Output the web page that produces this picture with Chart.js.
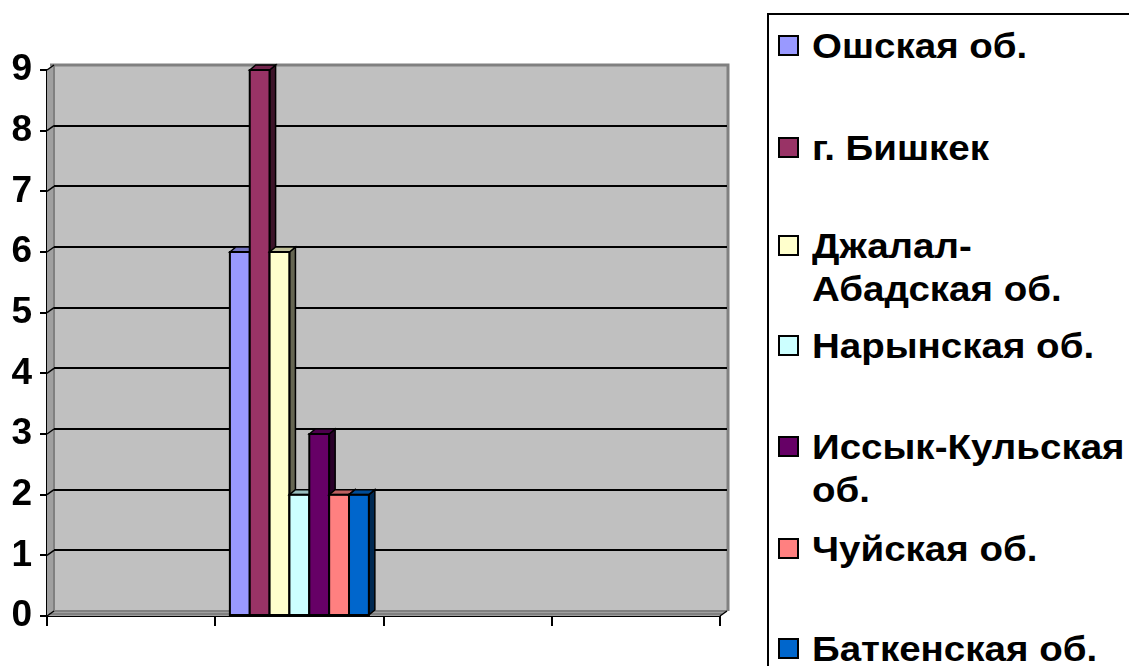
<!DOCTYPE html>
<html>
<head>
<meta charset="utf-8">
<script src="https://cdn.jsdelivr.net/npm/chart.js@4/dist/chart.umd.min.js"></script>
<style>
  html, body { margin: 0; padding: 0; background: #fff; }
  #wrap { position: relative; width: 1129px; height: 666px; overflow: hidden; }
  #c { position: absolute; left: 0; top: 0; }
  #legend { position: absolute; left: 767px; top: 13px; width: 420px; height: 700px;
            border: 2px solid #000; box-sizing: border-box; background: #fff; }
  .item { position: absolute; left: 0; font-family: "Liberation Sans", Arial, sans-serif;
          font-weight: bold; font-size: 35px; line-height: 43px; color: #000; }
  .sw { position: absolute; left: 9px; top: 11px; width: 17px; height: 17px; border: 2px solid #000; }
  .txt { position: absolute; left: 43px; top: 0; white-space: nowrap; transform: scaleX(1.1); transform-origin: 0 0; }
</style>
</head>
<body>
<div id="wrap">
  <canvas id="c" width="1129" height="666"></canvas>
  <div id="legend"></div>
</div>
<script>
// ---- data ----
const categories = ["", "", "", ""];
const seriesNames = ["Ошская об.", "г. Бишкек", "Джалал-Абадская об.", "Нарынская об.", "Иссык-Кульская об.", "Чуйская об.", "Баткенская об."];
const legendLines = [["Ошская об."], ["г. Бишкек"], ["Джалал-", "Абадская об."], ["Нарынская об."], ["Иссык-Кульская", "об."], ["Чуйская об."], ["Баткенская об."]];
const ochValues   = [null, 6, null, null];
const bishValues  = [null, 9, null, null];
const jalValues   = [null, 6, null, null];
const narValues   = [null, 2, null, null];
const issValues   = [null, 3, null, null];
const chuValues   = [null, 2, null, null];
const batValues   = [null, 2, null, null];
const yTicks = [0, 1, 2, 3, 4, 5, 6, 7, 8, 9];

// ---- style ----
const colors = ["#9999FF", "#993366", "#FFFFCC", "#CCFFFF", "#660066", "#FF8080", "#0066CC"];
const seriesValues = [ochValues, bishValues, jalValues, narValues, issValues, chuValues, batValues];
const DX = 6, DY = 5;      // bar depth
const WX = 7, WY = 5;      // wall depth
const legendCenters = [45, 147, 245, 345, 446, 548, 648];

function shade(hex, f) {
  const n = parseInt(hex.slice(1), 16);
  const r = Math.round(((n >> 16) & 255) * f), g = Math.round(((n >> 8) & 255) * f), b = Math.round((n & 255) * f);
  return `rgb(${r},${g},${b})`;
}

const wallPlugin = {
  id: 'wall',
  beforeDatasetsDraw(chart) {
    const ctx = chart.ctx, a = chart.chartArea, y = chart.scales.y;
    ctx.save();
    // left side wall
    ctx.fillStyle = '#a0a0a0';
    ctx.beginPath();
    ctx.moveTo(a.left, a.top); ctx.lineTo(a.left + WX, a.top - WY);
    ctx.lineTo(a.left + WX, a.bottom - WY); ctx.lineTo(a.left, a.bottom); ctx.closePath(); ctx.fill();
    // floor
    ctx.fillStyle = '#a0a0a0';
    ctx.beginPath();
    ctx.moveTo(a.left, a.bottom); ctx.lineTo(a.left + WX, a.bottom - WY);
    ctx.lineTo(a.right + WX, a.bottom - WY); ctx.lineTo(a.right, a.bottom); ctx.closePath(); ctx.fill();
    // back wall
    ctx.fillStyle = '#c0c0c0';
    ctx.fillRect(a.left + WX, a.top - WY, a.right - a.left, a.bottom - a.top);
    ctx.strokeStyle = '#808080'; ctx.lineWidth = 3;
    ctx.beginPath();
    ctx.moveTo(a.left + WX - 4, a.top - WY); ctx.lineTo(a.right + WX + 1, a.top - WY);
    ctx.lineTo(a.right + WX + 1, a.bottom - WY);
    ctx.stroke();
    ctx.lineWidth = 2;
    ctx.beginPath();
    ctx.moveTo(a.left + WX, a.top - WY); ctx.lineTo(a.left + WX, a.bottom - WY);
    ctx.lineTo(a.right + WX, a.bottom - WY);
    ctx.stroke();
    // floor edge
    ctx.strokeStyle = '#808080'; ctx.lineWidth = 2;
    ctx.beginPath(); ctx.moveTo(a.left + 2, a.bottom - 2); ctx.lineTo(a.right + 2, a.bottom - 2); ctx.stroke();
    // back gridlines
    ctx.strokeStyle = '#000'; ctx.lineWidth = 2;
    yTicks.forEach(v => {
      if (v === 0 || v === 9) return;
      const py = Math.round(y.getPixelForValue(v)) - WY;
      ctx.beginPath(); ctx.moveTo(a.left + WX, py); ctx.lineTo(a.right + WX, py); ctx.stroke();
    });
    // little diagonal tick joints
    ctx.lineWidth = 1.5;
    yTicks.forEach(v => {
      const py = y.getPixelForValue(v);
      ctx.beginPath(); ctx.moveTo(a.left, py); ctx.lineTo(a.left + WX, py - WY); ctx.stroke();
    });
    ctx.beginPath(); ctx.moveTo(a.right, a.bottom); ctx.lineTo(a.right + WX, a.bottom - WY); ctx.stroke();
    ctx.restore();
  },
  afterDatasetsDraw(chart) {
    const ctx = chart.ctx;
    ctx.save();
    const n = chart.data.datasets.length;
    for (let d = 0; d < n; d++) {
      const meta = chart.getDatasetMeta(d);
      meta.data.forEach((el, i) => {
        if (chart.data.datasets[d].data[i] == null) return;
        el.draw(ctx);
        const p = el.getProps(['x', 'y', 'base', 'width'], true);
        const l = p.x - p.width / 2, r = p.x + p.width / 2, t = p.y, b = p.base;
        const col = colors[d];
        ctx.lineWidth = 1.5; ctx.strokeStyle = '#000'; ctx.lineJoin = 'miter';
        // side
        ctx.fillStyle = shade(col, 0.4);
        ctx.beginPath();
        ctx.moveTo(r, t); ctx.lineTo(r + DX, t - DY); ctx.lineTo(r + DX, b - DY); ctx.lineTo(r, b); ctx.closePath();
        ctx.fill(); ctx.stroke();
        // top
        ctx.fillStyle = shade(col, 0.75);
        ctx.beginPath();
        ctx.moveTo(l, t); ctx.lineTo(l + DX, t - DY); ctx.lineTo(r + DX, t - DY); ctx.lineTo(r, t); ctx.closePath();
        ctx.fill(); ctx.stroke();
        // re-stroke front
        ctx.lineWidth = 2;
        ctx.strokeRect(l, t, r - l, b - t);
      });
    }
    ctx.restore();
  }
};

const datasets = seriesNames.map((name, k) => ({
  label: name,
  data: seriesValues[k],
  backgroundColor: colors[k],
  borderColor: '#000',
  borderWidth: 0,
  categoryPercentage: 0.826,
  barPercentage: 1.0
}));

new Chart(document.getElementById('c'), {
  type: 'bar',
  data: { labels: categories, datasets },
  plugins: [wallPlugin],
  options: {
    responsive: false,
    animation: false,
    events: [],
    layout: { padding: { left: 0, right: 409, top: 70, bottom: 0 } },
    plugins: { legend: { display: false }, tooltip: { enabled: false } },
    scales: {
      x: {
        grid: { display: true, offset: true, drawOnChartArea: false, drawTicks: true, tickLength: 10, color: '#000', lineWidth: 2 },
        border: { display: true, color: '#000', width: 2 },
        ticks: { display: false },
        afterFit(s) { s.height = 50; }
      },
      y: {
        min: 0, max: 9,
        afterBuildTicks(s) { s.ticks = yTicks.map(v => ({ value: v })); },
        grid: { display: true, drawOnChartArea: false, drawTicks: true, tickLength: 7, color: '#000', lineWidth: 2 },
        border: { display: true, color: '#000', width: 2 },
        ticks: { color: '#000', padding: 8, font: { family: '"Liberation Sans", Arial, sans-serif', weight: 'bold', size: 37 } },
        afterFit(s) { s.width = 47; }
      }
    }
  }
});

// HTML legend
const lg = document.getElementById('legend');
legendLines.forEach((lines, k) => {
  const it = document.createElement('div');
  it.className = 'item';
  it.style.top = (legendCenters[k] - 21 - 15) + 'px';
  const sw = document.createElement('div');
  sw.className = 'sw'; sw.style.background = colors[k];
  const tx = document.createElement('div');
  tx.className = 'txt';
  tx.innerHTML = lines.join('<br>');
  it.appendChild(sw); it.appendChild(tx);
  lg.appendChild(it);
});
</script>
</body>
</html>
